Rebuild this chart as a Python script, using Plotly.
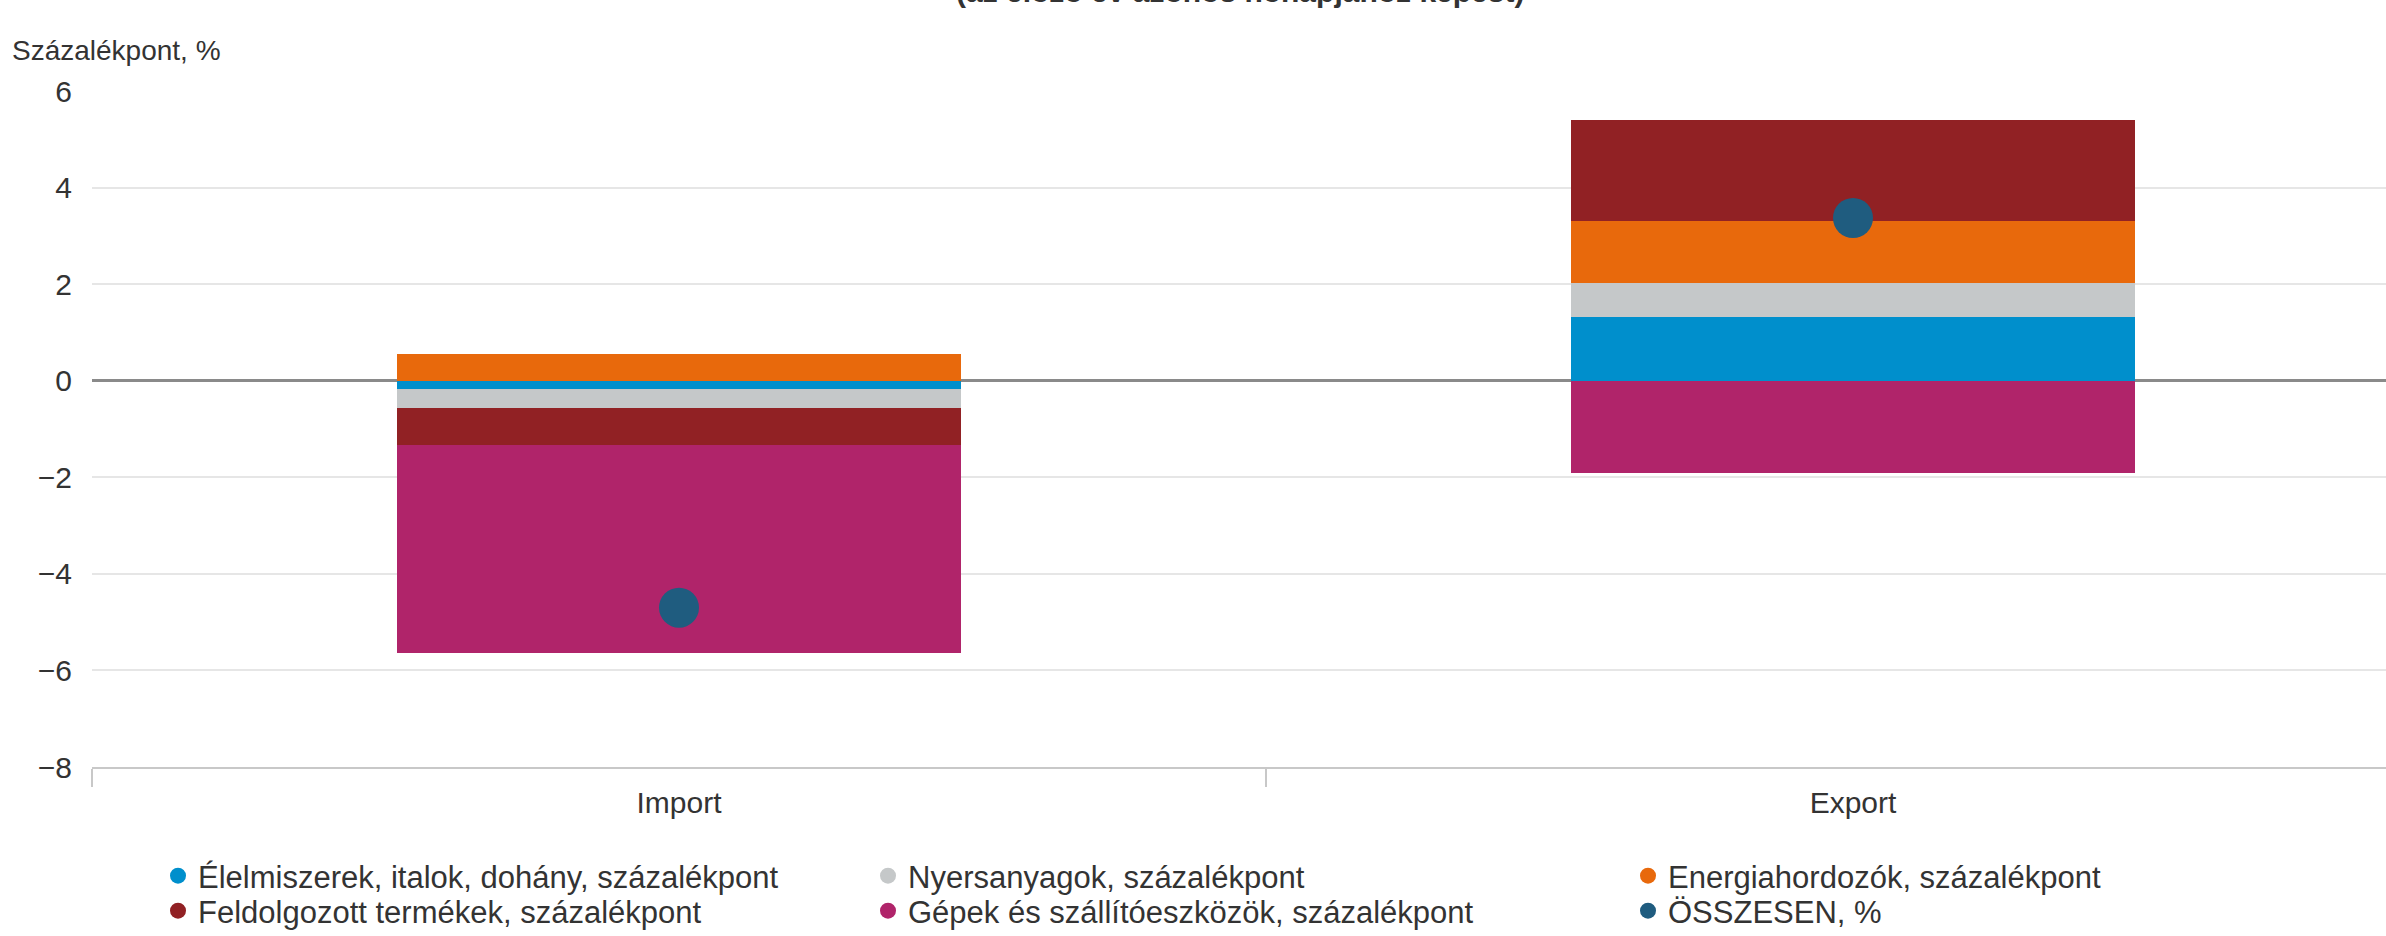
import plotly.graph_objects as go

categories = ["Import", "Export"]
elelmiszerek = [-0.17, 1.32]
nyersanyagok = [-0.39, 0.70]
energia = [0.55, 1.28]
feldolgozott = [-0.77, 2.10]
gepek = [-4.31, -1.92]
osszesen = [-4.70, 3.37]

names = {
    "el": "Élelmiszerek, italok, dohány, százalékpont",
    "ny": "Nyersanyagok, százalékpont",
    "en": "Energiahordozók, százalékpont",
    "fe": "Feldolgozott termékek, százalékpont",
    "ge": "Gépek és szállítóeszközök, százalékpont",
    "os": "ÖSSZESEN, %",
}
colors = {
    "el": "#008FCC",
    "ny": "#C5C8C9",
    "en": "#E8690C",
    "fe": "#912124",
    "ge": "#B0246A",
    "os": "#1F5C7F",
}

W, H = 2386, 936
ML, MR, MT, MB = 92, 0, 91, 169
PW = W - ML - MR
PH = H - MT - MB
CAT_PX = 1174


def px_x(px):
    return (px - ML) / PW


def px_y(py):
    return 1 - (py - MT) / PH


fig = go.Figure()

series = [("el", elelmiszerek), ("ny", nyersanyagok), ("en", energia),
          ("fe", feldolgozott), ("ge", gepek)]
for key, vals in series:
    fig.add_trace(go.Bar(x=categories, y=vals, name=names[key],
                         marker=dict(color=colors[key], line=dict(width=0)),
                         width=0.48, showlegend=False))

fig.add_trace(go.Scatter(x=categories, y=osszesen, name=names["os"], mode="markers",
                         marker=dict(color=colors["os"], size=40, line=dict(width=0)),
                         showlegend=False))

# legend entries (circle symbols): one small legend per entry, 3 columns x 2 rows
legend_slots = [
    ("el", "legend", 158, 876),
    ("ny", "legend2", 868, 876),
    ("en", "legend3", 1628, 876),
    ("fe", "legend4", 158, 911),
    ("ge", "legend5", 868, 911),
    ("os", "legend6", 1628, 911),
]
legend_common = dict(orientation="v", xanchor="left", yanchor="middle",
                     font=dict(family="Liberation Sans, Arial, sans-serif", size=31, color="#333333"),
                     bgcolor="rgba(0,0,0,0)", tracegroupgap=0, itemsizing="trace")
legend_layout = {}
for key, lg, lx, lyy in legend_slots:
    fig.add_trace(go.Scatter(x=[None], y=[None], mode="markers", name=names[key],
                             marker=dict(color=colors[key], size=16, symbol="circle"),
                             legend=lg, showlegend=True))
    legend_layout[lg] = dict(x=px_x(lx), y=px_y(lyy), **legend_common)
fig.update_layout(**legend_layout)

fig.update_layout(
    width=W, height=H,
    margin=dict(l=ML, r=MR, t=MT, b=MB, autoexpand=False),
    paper_bgcolor="white", plot_bgcolor="white",
    barmode="relative", bargap=0,
    font=dict(family="Liberation Sans, Arial, sans-serif", color="#333333"),
    xaxis=dict(
        type="category",
        range=[-0.5, -0.5 + PW / CAT_PX],
        tickson="boundaries",
        ticks="outside", ticklen=18, tickwidth=2, tickcolor="#C8C8C8",
        showline=True, linecolor="#C8C8C8", linewidth=2,
        showgrid=False,
        tickfont=dict(size=30, color="#333333"),
        ticklabelstandoff=8,
    ),
    yaxis=dict(
        range=[-8, 6], dtick=2, tick0=0,
        showgrid=True, gridcolor="#E6E6E6", gridwidth=2,
        zeroline=True, zerolinecolor="#8A8A8A", zerolinewidth=3,
        showline=False,
        tickfont=dict(size=30, color="#333333"),
        ticklabelstandoff=19,
        tickformat="d",
    ),
    annotations=[
        dict(text="Százalékpont, %", xref="paper", yref="paper",
             x=px_x(10), y=px_y(50), xanchor="left", yanchor="middle",
             showarrow=False, font=dict(size=28, color="#333333")),
        dict(text="<b>(az előző év azonos hónapjához képest)</b>", xref="paper", yref="paper",
             x=px_x(1240), y=px_y(10), xanchor="center", yanchor="bottom",
             showarrow=False, font=dict(size=30, color="#333333")),
    ],
)

fig.write_html("out.html", config={"displayModeBar": False},
               post_script="document.body.style.margin='0';")
